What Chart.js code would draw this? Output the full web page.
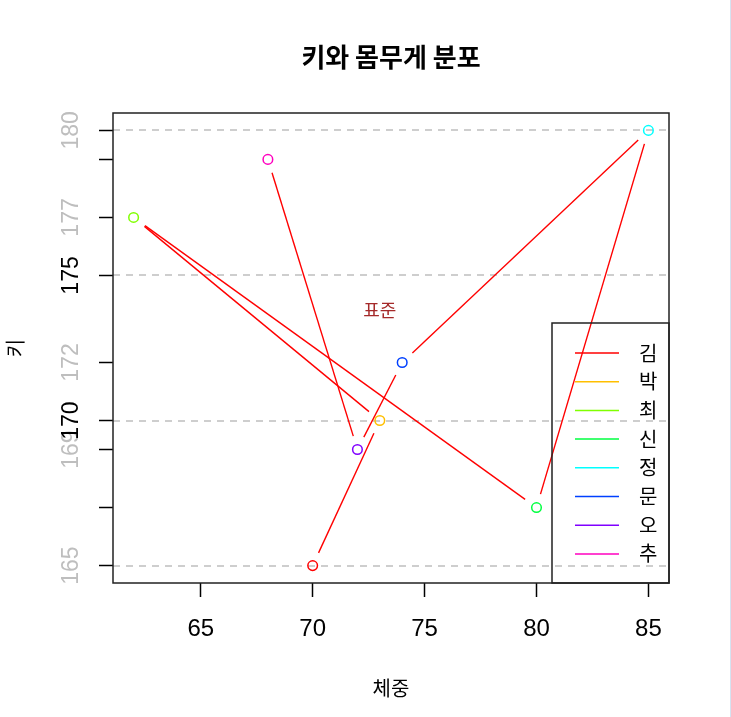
<!DOCTYPE html>
<html><head><meta charset="utf-8">
<script src="https://cdn.jsdelivr.net/npm/chart.js@4"></script>
<style>
html,body{margin:0;padding:0;background:#fff;}
#wrap{position:relative;width:731px;height:717px;}
#edge{position:absolute;left:730px;top:0;width:1px;height:717px;background:#d5e3f1;}
</style>
</head><body>
<div id="wrap"><canvas id="c" width="731" height="717"></canvas><div id="edge"></div></div>
<script>
// ---- data ----
const names = ['김','박','최','신','정','문','오','추'];
const weights = [70,73,62,80,85,74,72,68];
const heights = [165,170,177,167,180,172,169,179];
const pointColors = ['#FF0000','#FFBF00','#80FF00','#00FF40','#00FFFF','#0040FF','#8000FF','#FF00BF'];
const xTicks = [65,70,75,80,85];
const yTicks = [165,167,169,170,172,175,177,179,180];
const yLabelsGray = [165,169,172,177,180];
const yLabelsBlack = [170,175];
const refLines = [165,170,175,180];
const xRange = [61.08, 85.92];
const yRange = [164.4, 180.6];
const noteText = '표준';
const notePos = [73, 173.8];
const titleText = '키와 몸무게 분포';
const xTitle = '체중';
const yTitle = '키';

const GAP = 14;
const NUM = "'Liberation Sans', Arial, sans-serif";
const KR = "'Noto Sans CJK KR', sans-serif";

const pts = weights.map((w,i)=>({x:w, y:heights[i]}));

function segLen(ctx){
  const dx = ctx.p1.x-ctx.p0.x, dy = ctx.p1.y-ctx.p0.y;
  return Math.sqrt(dx*dx+dy*dy);
}

const deco = {
  id:'deco',
  beforeDatasetsDraw(chart){
    const {ctx, chartArea:a, scales:{y}} = chart;
    ctx.save();
    ctx.beginPath(); ctx.rect(a.left,a.top,a.right-a.left,a.bottom-a.top); ctx.clip();
    ctx.strokeStyle='#bebebe'; ctx.lineWidth=1.5; ctx.setLineDash([7,6]);
    refLines.forEach(v=>{
      const py = Math.round(y.getPixelForValue(v));
      ctx.beginPath(); ctx.moveTo(a.left,py); ctx.lineTo(a.right,py); ctx.stroke();
    });
    ctx.restore();
  },
  afterDatasetsDraw(chart){
    const {ctx, chartArea:a, scales:{x,y}} = chart;
    ctx.save();
    // plot box
    ctx.strokeStyle='#222'; ctx.lineWidth=1.5; ctx.setLineDash([]);
    ctx.strokeRect(a.left, a.top, a.right-a.left, a.bottom-a.top);
    // y tick labels (rotated)
    const drawY = (v,col)=>{
      ctx.save();
      ctx.translate(72, y.getPixelForValue(v));
      ctx.rotate(-Math.PI/2);
      ctx.fillStyle=col; ctx.font='23px '+NUM;
      ctx.textAlign='center'; ctx.textBaseline='middle';
      ctx.fillText(String(v),0,0);
      ctx.restore();
    };
    yLabelsGray.forEach(v=>drawY(v,'#bebebe'));
    yLabelsBlack.forEach(v=>drawY(v,'#000'));
    // title
    const cx = (a.left+a.right)/2;
    ctx.fillStyle='#000'; ctx.textAlign='center'; ctx.textBaseline='middle';
    ctx.font='bold 26px '+KR;
    ctx.fillText(titleText, cx, 57);
    ctx.font='20px '+KR;
    ctx.fillText(xTitle, cx, 688);
    ctx.save(); ctx.translate(15,348); ctx.rotate(-Math.PI/2); ctx.fillText(yTitle,0,0); ctx.restore();
    // note
    ctx.fillStyle='#A52A2A'; ctx.font='18px '+KR;
    ctx.fillText(noteText, x.getPixelForValue(notePos[0]), y.getPixelForValue(notePos[1]));
    // legend
    const lw=117, lh=260, lx=a.right-lw, ly=a.bottom-lh;
    ctx.strokeStyle='#222'; ctx.lineWidth=1.5;
    ctx.strokeRect(lx, ly, lw, lh);
    ctx.font='20px '+KR; ctx.textAlign='left'; ctx.textBaseline='middle';
    names.forEach((n,i)=>{
      const ry = ly + 30 + i*28.7;
      ctx.strokeStyle=pointColors[i]; ctx.lineWidth=1.5;
      ctx.beginPath(); ctx.moveTo(lx+23, ry); ctx.lineTo(lx+67, ry); ctx.stroke();
      ctx.fillStyle='#000';
      ctx.fillText(n, lx+87, ry);
    });
    ctx.restore();
  }
};

new Chart(document.getElementById('c'), {
  type:'scatter',
  data:{
    datasets:[
      {
        type:'scatter', data:pts, order:0, showLine:false,
        pointRadius:4.8, pointHoverRadius:4.8,
        pointBorderColor:pointColors, pointBackgroundColor:'rgba(0,0,0,0)',
        pointBorderWidth:1.5
      },
      {
        type:'line', data:pts, order:1, showLine:true, fill:false,
        borderColor:'#FF0000', borderWidth:1.4, pointRadius:0, tension:0,
        segment:{
          borderDash: ctx=>{ const L=segLen(ctx); return [Math.max(L-2*GAP,0), 2*GAP]; },
          borderDashOffset: ctx=>{ const L=segLen(ctx); return L-GAP; }
        }
      }
    ]
  },
  options:{
    responsive:false, animation:false, devicePixelRatio:1,
    layout:{padding:{left:73, right:62, top:113, bottom:74}},
    plugins:{legend:{display:false}, tooltip:{enabled:false}, title:{display:false}},
    scales:{
      x:{
        type:'linear', min:xRange[0], max:xRange[1],
        afterBuildTicks:s=>{ s.ticks = xTicks.map(v=>({value:v})); },
        afterFit:s=>{ s.height=60; },
        grid:{drawOnChartArea:false, drawTicks:true, tickLength:14, tickColor:'#000', tickWidth:1.5},
        border:{display:false},
        ticks:{color:'#000', font:{family:NUM, size:24}, padding:18, maxRotation:0}
      },
      y:{
        type:'linear', min:yRange[0], max:yRange[1],
        afterBuildTicks:s=>{ s.ticks = yTicks.map(v=>({value:v})); },
        afterFit:s=>{ s.width=40; },
        grid:{drawOnChartArea:false, drawTicks:true, tickLength:14, tickColor:'#000', tickWidth:1.5},
        border:{display:false},
        ticks:{display:false}
      }
    }
  },
  plugins:[deco]
});
</script>
</body></html>
